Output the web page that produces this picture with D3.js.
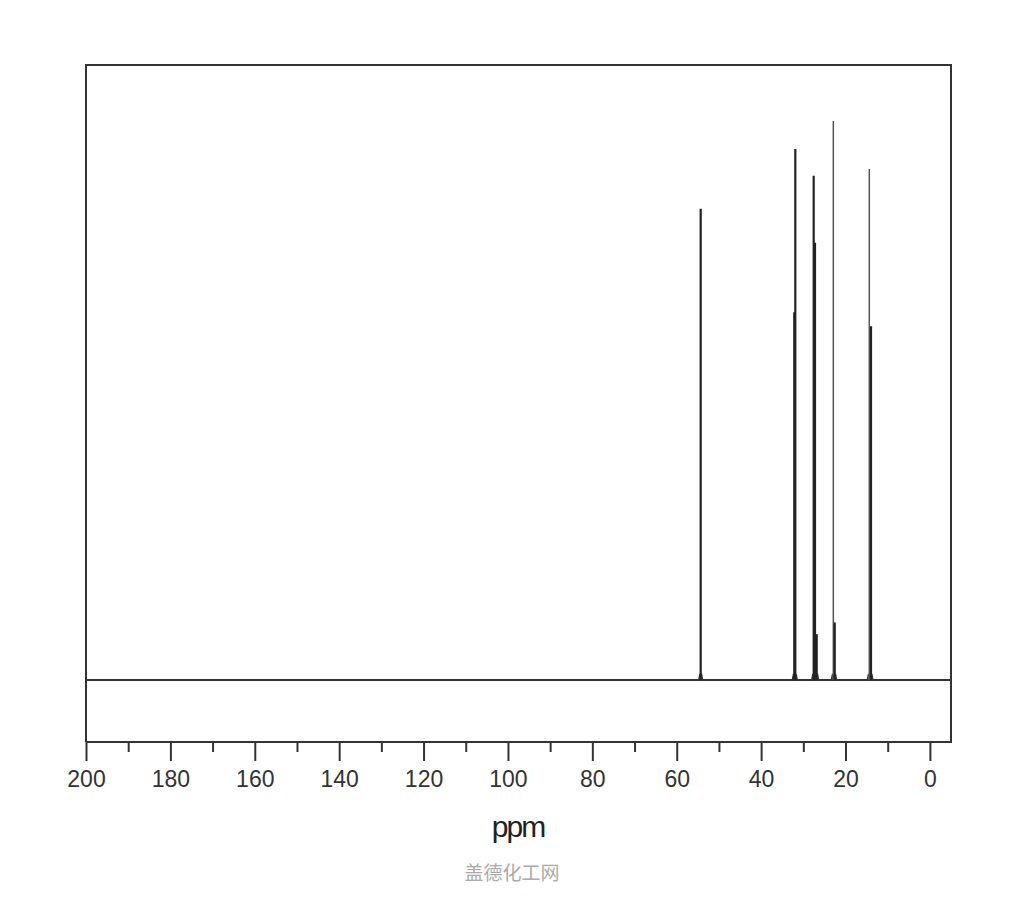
<!DOCTYPE html>
<html>
<head>
<meta charset="utf-8">
<script src="https://cdn.jsdelivr.net/npm/d3@7"></script>
<style>
  html, body { margin: 0; padding: 0; background: #fff; }
  svg { display: block; overflow: visible; }
</style>
</head>
<body>
<svg id="graph"></svg>
<script>
// peak positions (ppm) and heights (% of tallest line)
var peakPpm    = [54.32, 32.14, 31.90, 27.54, 27.23, 26.83, 22.89, 22.56, 14.36, 13.96];
var peakHeight = [84.3,  65.8,  95.0,  90.2,  78.2,  8.2,   100,   10.3,  91.4,  63.3];
var peakHeavy  = [true,  true,  true,  true,  true,  true,  false, true,  false, true];

var majorTicks = [200, 180, 160, 140, 120, 100, 80, 60, 40, 20, 0];
var minorTicks = [190, 170, 150, 130, 110, 90, 70, 50, 30, 10];
var xLabel = "ppm";
var watermark = "盖德化工网";

var outerWidth = 1024, outerHeight = 900;
var margins = { left: 86, right: 73, top: 65, bottom: 158 };
var innerWidth = outerWidth - margins.left - margins.right;
var innerHeight = outerHeight - margins.top - margins.bottom;

function drawGraph() {
    let ppmScale = d3.scaleLinear()
        .domain([200, -5])
        .range([0, innerWidth]);

    // baseline of the spectrum sits at y=680 in page coords
    let intScale = d3.scaleLinear()
        .domain([0, 100])
        .range([680 - margins.top, 121 - margins.top]);

    let graphOuter = d3.select('svg#graph')
        .attr('width', outerWidth)
        .attr('height', outerHeight)
        .attr('viewBox', '0 0 ' + outerWidth + ' ' + outerHeight)
        .style('background-color', '#fff');

    let graphInner = graphOuter.append('g')
        .attr('transform', 'translate(' + margins.left + ',' + margins.top + ')');

    // frame
    graphInner.append('path')
        .attr('d', 'M0,' + innerHeight + 'V0H' + innerWidth + 'V' + innerHeight + 'H0')
        .attr('fill', 'none')
        .attr('stroke', '#333')
        .attr('stroke-width', 2);

    // baseline
    graphInner.append('line')
        .attr('x1', 0).attr('x2', innerWidth)
        .attr('y1', intScale(0)).attr('y2', intScale(0))
        .attr('stroke', '#333')
        .attr('stroke-width', 2);

    let peaks = peakPpm.map((p, i) => ({ ppm: p, h: peakHeight[i], heavy: peakHeavy[i] }));

    // small foot under each line
    graphInner.selectAll('path.foot')
        .data(peaks)
        .enter().append('path')
        .attr('class', 'foot')
        .attr('d', d => 'M' + ppmScale(d.ppm + 0.45) + ',' + intScale(0) +
            'L' + ppmScale(d.ppm + 0.2) + ',' + intScale(1.0) +
            'L' + ppmScale(d.ppm - 0.2) + ',' + intScale(1.0) +
            'L' + ppmScale(d.ppm - 0.45) + ',' + intScale(0))
        .attr('fill', 'none')
        .attr('stroke', '#333')
        .attr('stroke-width', 1.5);

    graphInner.selectAll('line.peak')
        .data(peaks)
        .enter().append('line')
        .attr('class', 'peak')
        .attr('x1', d => ppmScale(d.ppm)).attr('x2', d => ppmScale(d.ppm))
        .attr('y1', intScale(0)).attr('y2', d => intScale(d.h))
        .attr('stroke', d => d.heavy ? '#222' : '#555')
        .attr('stroke-width', d => d.heavy ? 2.2 : 1.5);

    // x axis
    let xAxis = d3.axisBottom(ppmScale)
        .tickValues(majorTicks)
        .tickSize(19)
        .tickPadding(10)
        .tickFormat(d3.format('d'));

    let gX = graphInner.append('g')
        .attr('class', 'x-axis')
        .attr('transform', 'translate(0,' + innerHeight + ')')
        .call(xAxis);
    gX.select('.domain').remove();
    gX.selectAll('line').attr('stroke', '#333').attr('stroke-width', 2);
    gX.selectAll('text')
        .attr('fill', '#333')
        .style('font-family', '"Liberation Sans", Arial, sans-serif')
        .style('font-size', '23px');

    let minorAxis = d3.axisBottom(ppmScale)
        .tickValues(minorTicks)
        .tickSize(10)
        .tickFormat('');
    let gMinor = graphInner.append('g')
        .attr('transform', 'translate(0,' + innerHeight + ')')
        .call(minorAxis);
    gMinor.select('.domain').remove();
    gMinor.selectAll('line').attr('stroke', '#333').attr('stroke-width', 2);

    // X Axis Text
    graphOuter.append('text')
        .attr('x', 518)
        .attr('y', 837)
        .attr('text-anchor', 'middle')
        .style('font-family', '"Liberation Sans", Arial, sans-serif')
        .style('font-size', '30px')
        .style('letter-spacing', '-2px')
        .attr('fill', '#222')
        .text(xLabel);

    graphOuter.append('text')
        .attr('x', 512)
        .attr('y', 880)
        .attr('text-anchor', 'middle')
        .style('font-family', '"Noto Sans CJK SC", sans-serif')
        .style('font-size', '19px')
        .attr('fill', '#aaa')
        .text(watermark);
}

drawGraph();
</script>
</body>
</html>
